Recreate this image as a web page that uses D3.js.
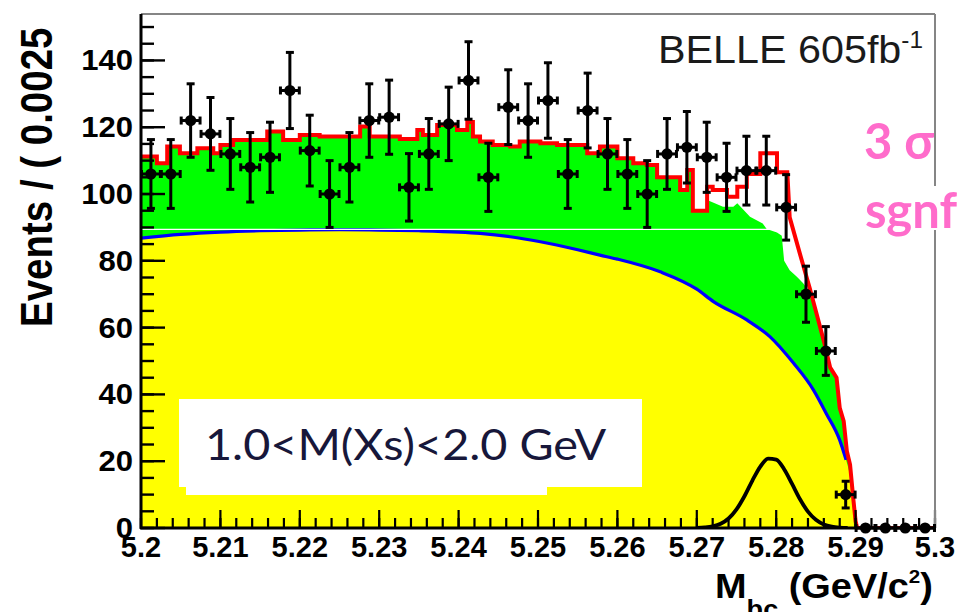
<!DOCTYPE html>
<html><head><meta charset="utf-8">
<script src="https://cdn.jsdelivr.net/npm/d3@7"></script>
<style>html,body{margin:0;padding:0;background:#fff;} svg{display:block}</style>
</head><body>
<svg id="c" width="960" height="612"></svg>
<script>
// ---------------- data ----------------
const binCenters = [5.20125,5.20375,5.20625,5.20875,5.21125,5.21375,5.21625,5.21875,5.22125,5.22375,
  5.22625,5.22875,5.23125,5.23375,5.23625,5.23875,5.24125,5.24375,5.24625,5.24875,
  5.25125,5.25375,5.25625,5.25875,5.26125,5.26375,5.26625,5.26875,5.27125,5.27375,
  5.27625,5.27875,5.28125,5.28375,5.28625,5.28875,5.29125,5.29375,5.29625,5.29875];
const binHalfWidth = 0.00125;
const events = [106,106,122,118,112,108,111,131,113,100,108,122,123,102,112,121,134,105,126,122,
  128,106,125,112,106,100,112,114,111,105,107,107,96,70,53,10,0,0,0,0];
const eventErr = [10.3,10.3,11.0,10.9,10.6,10.4,10.5,11.4,10.6,10.0,10.4,11.0,11.1,10.1,10.6,11.0,11.6,10.2,11.2,11.0,
  11.3,10.3,11.2,10.6,10.3,10.0,10.6,10.7,10.5,10.2,10.3,10.3,9.8,8.4,7.3,4.0,0,0,0,0];

// continuum (ARGUS-like) background: yellow fill with blue line
const argusMass = [5.2000,5.2050,5.2100,5.2150,5.2200,5.2250,5.2300,5.2350,5.2400,5.2427,5.2465,5.2503,5.2550,5.2578,
  5.2600,5.2654,5.2700,5.2721,5.2763,5.2792,5.2822,5.2847,5.2863,5.2880,5.2888,5.2894,5.2897,5.2898];
const argusVal = [86.8,87.9,88.6,89.0,89.2,89.3,89.2,89.0,88.6,88.2,87.2,85.7,83.3,81.7,
  80.5,76.7,71.5,67.8,62.3,57.3,49.3,41.3,34.3,26.3,20.4,14,8,0];

// total fit (red) : step levels then falling tail
const redStepMass = [5.2000,5.2020,5.2033,5.2049,5.2071,5.2091,5.2100,5.2116,5.2159,5.2179,5.2200,5.2225,5.2276,5.2288,
  5.2326,5.2348,5.2355,5.2373,5.2398,5.2411,5.2418,5.2427,5.2443,5.2465,5.2477,5.2503,5.2524,5.2562,5.2578,5.2600,
  5.2620,5.2637,5.2650,5.2679,5.2688,5.2695,5.2713,5.2720,5.2738,5.2751,5.2763,5.2780,5.2801];
const redStepVal = [111.2,109.2,114.2,112.2,113.7,112.2,114.7,116.2,118.7,116.2,117.7,117.2,120.2,117.2,
  116.5,119.2,117.7,120.7,119.2,121.6,117.2,115.7,114.7,114.2,115.7,115.2,114.7,112.2,114.2,110.7,
  109.2,108.7,105.0,101.2,107.2,95.0,102.2,101.2,99.2,102.2,106.0,112.2,106.5];
const redStepEnd = 5.2814;
const redTailMass = [5.2817,5.2830,5.2842,5.2851,5.2861,5.2868,5.2876,5.2880,5.2885,5.2889,5.2893,5.2897,5.2900,5.2902,5.3000];
const redTailVal = [93,82,72,64,55,48,45,36,32,23,19,9,2,0,0];

// total background (green): follows the fit up to 5.2713, then its own edge
const greenStepEnd = 5.2713;
const greenTailMass = [5.2713,5.2733,5.2746,5.2751,5.2767,5.2783,5.2788,5.2801,5.2807,5.2810,5.2817,5.2826,5.2834,5.2843,
  5.2849,5.2851,5.2861,5.2868,5.2876,5.2880,5.2885,5.2889,5.2893,5.2897,5.2900,5.2902];
const greenTailVal = [98.2,96.2,96.2,97.2,93.2,91.2,89.5,88.5,87.5,80,77.2,75.2,73.3,70.3,
  66,64,55,48,45,36,32,23,19,9,2,0];

// signal component (black curve)
const sigMass = [5.2700,5.2710,5.2720,5.2730,5.2740,5.2750,5.2760,5.2770,5.2780,5.2790,5.2800,
  5.2810,5.2820,5.2830,5.2840,5.2850,5.2860,5.2870,5.2880,5.2890];
const sigVal = [0.05,0.17,0.49,1.26,2.84,5.57,9.5,14.2,18.4,20.8,20.5,17.6,13.2,8.6,4.9,2.45,1.06,0.40,0.13,0.04];

const xTickLabels = ["5.2","5.21","5.22","5.23","5.24","5.25","5.26","5.27","5.28","5.29","5.3"];
const yTickLabels = ["0","20","40","60","80","100","120","140"];
const artifactLineValue = 89.4;

// ---------------- setup ----------------
const svg = d3.select("#c");
const X0 = 141, X1 = 935, Y0 = 528, Y1 = 14;
const x = d3.scaleLinear().domain([5.2, 5.3]).range([X0, X1]);
const y = d3.scaleLinear().domain([0, 153.9]).range([Y0, Y1]);

function stepPts(ms, vs, endM) {
  const p = [];
  ms.forEach((m, i) => {
    const m2 = i < ms.length - 1 ? ms[i + 1] : endM;
    p.push([m, vs[i]], [m2, vs[i]]);
  });
  return p;
}
const redPts = stepPts(redStepMass, redStepVal, redStepEnd)
  .concat(redTailMass.map((m, i) => [m, redTailVal[i]]));
const gIdx = redStepMass.findIndex(m => m >= greenStepEnd);
const greenPts = stepPts(redStepMass.slice(0, gIdx), redStepVal.slice(0, gIdx), greenStepEnd)
  .concat(greenTailMass.map((m, i) => [m, greenTailVal[i]]));
const argusPts = argusMass.map((m, i) => [m, argusVal[i]]);
const sigPts = sigMass.map((m, i) => [m, sigVal[i]]);

const plot = svg.append("g");
const defs = svg.append("defs");
defs.append("clipPath").attr("id", "frame").append("rect")
  .attr("x", X0).attr("y", Y1).attr("width", X1 - X0).attr("height", Y0 - Y1);
plot.attr("clip-path", "url(#frame)");

const area = d3.area().x(d => x(d[0])).y0(y(0)).y1(d => y(d[1]));
const line = d3.line().x(d => x(d[0])).y(d => y(d[1]));

plot.append("path").datum(greenPts).attr("d", area).attr("fill", "#00ff00");
plot.append("path").datum(argusPts).attr("d", area.curve(d3.curveMonotoneX)).attr("fill", "#ffff00");
plot.append("path").datum(argusPts.filter(d => d[1] > 15))
  .attr("d", d3.line().x(d => x(d[0])).y(d => y(d[1])).curve(d3.curveMonotoneX))
  .attr("fill", "none").attr("stroke", "#0000ff").attr("stroke-width", 3.2);
plot.append("line").attr("x1", X0).attr("x2", x(5.2822))
  .attr("y1", y(artifactLineValue)).attr("y2", y(artifactLineValue))
  .attr("stroke", "#fff").attr("stroke-width", 1.2);
plot.append("path").datum(redPts).attr("d", line).attr("fill", "none")
  .attr("stroke", "#ff0000").attr("stroke-width", 4).attr("stroke-linejoin", "miter");
plot.append("path").datum(sigPts)
  .attr("d", d3.line().x(d => x(d[0])).y(d => y(d[1])).curve(d3.curveMonotoneX))
  .attr("fill", "none").attr("stroke", "#000").attr("stroke-width", 3.8);

// white label box (slide overlay)
svg.append("rect").attr("x", 179).attr("y", 399).attr("width", 463).attr("height", 88).attr("fill", "#fff");
svg.append("rect").attr("x", 186).attr("y", 399).attr("width", 361).attr("height", 96).attr("fill", "#fff");

function fitWidth(sel, x0, target) {
  const w = sel.node().getBBox().width;
  const s = target / w;
  sel.attr("transform", `translate(${x0},0) scale(${s},1) translate(${-x0},0)`);
}

const boxText = svg.append("text").attr("x", 205).attr("y", 460)
  .attr("font-family", "Lato, 'Open Sans', sans-serif").attr("font-size", 42)
  .attr("fill", "#17173a").text("1.0<M(Xs)<2.0 GeV");
fitWidth(boxText, 205, 402);

// ---------------- axes ----------------
const ax = svg.append("g");
ax.append("line").attr("x1", X0).attr("x2", X1).attr("y1", Y1).attr("y2", Y1).attr("stroke", "#858585").attr("stroke-width", 2);
svg.append("text").attr("x", 864).attr("y", 159).attr("font-family", "Lato, 'Open Sans', sans-serif")
  .attr("font-weight", "bold").attr("font-size", 49).attr("fill", "#ff6ccb").text("3 σ");
svg.append("line").attr("x1", X1).attr("x2", X1).attr("y1", Y1).attr("y2", Y0).attr("stroke", "#858585").attr("stroke-width", 2);
svg.append("rect").attr("x", 858).attr("y", 186).attr("width", 102).attr("height", 44).attr("fill", "#fff");
svg.append("text").attr("x", 865).attr("y", 228).attr("font-family", "Lato, 'Open Sans', sans-serif")
  .attr("font-weight", "bold").attr("font-size", 49).attr("fill", "#ff6ccb").text("sgnf");

const yMinor = y.ticks(30), yMajor = y.ticks(8);
ax.selectAll(".ymin").data(yMinor).join("line")
  .attr("x1", X0).attr("x2", X0 + 13).attr("y1", d => y(d)).attr("y2", d => y(d))
  .attr("stroke", "#000").attr("stroke-width", 2.4);
ax.selectAll(".ymaj").data(yMajor).join("line")
  .attr("x1", X0).attr("x2", X0 + 24).attr("y1", d => y(d)).attr("y2", d => y(d))
  .attr("stroke", "#000").attr("stroke-width", 2.4);
const xMinor = x.ticks(50), xMajor = x.ticks(10);
ax.selectAll(".xmin").data(xMinor).join("line")
  .attr("x1", d => x(d)).attr("x2", d => x(d)).attr("y1", Y0).attr("y2", Y0 - 10)
  .attr("stroke", "#000").attr("stroke-width", 2.2);
ax.selectAll(".xmaj").data(xMajor).join("line")
  .attr("x1", d => x(d)).attr("x2", d => x(d)).attr("y1", Y0).attr("y2", Y0 - 18)
  .attr("stroke", "#000").attr("stroke-width", 2.2);
ax.append("line").attr("x1", X0).attr("x2", X0).attr("y1", Y1).attr("y2", Y0 + 1).attr("stroke", "#000").attr("stroke-width", 3);
ax.append("line").attr("x1", X0 - 1).attr("x2", X1).attr("y1", Y0).attr("y2", Y0).attr("stroke", "#000").attr("stroke-width", 3);

const lblFont = "'Liberation Sans', Arial, Helvetica, sans-serif";
ax.selectAll(".xl").data(xTickLabels).join("text")
  .attr("x", d => x(+d)).attr("y", 557).attr("text-anchor", "middle")
  .attr("font-family", lblFont).attr("font-weight", "bold").attr("font-size", 29).attr("fill", "#000").text(d => d);
ax.selectAll(".yl").data(yTickLabels).join("text")
  .attr("x", 133).attr("y", d => y(+d) + 10).attr("text-anchor", "end")
  .attr("font-family", lblFont).attr("font-weight", "bold").attr("font-size", 29).attr("fill", "#000")
  .attr("transform", "translate(133,0) scale(1.07,1) translate(-133,0)").text(d => d);

// axis titles
svg.append("text").attr("transform", "translate(52,327) scale(1.15,1) rotate(-90)")
  .attr("font-family", lblFont).attr("font-weight", "bold").attr("font-size", 38.5).attr("fill", "#000")
  .text("Events / ( 0.0025");
const xt = svg.append("text").attr("x", 715).attr("y", 598)
  .attr("font-family", lblFont).attr("font-weight", "bold").attr("font-size", 35).attr("fill", "#000");
xt.append("tspan").text("M");
xt.append("tspan").attr("font-size", 25).attr("dy", 20).text("bc");
xt.append("tspan").attr("font-size", 35).attr("dy", -20).text(" (GeV/c");
xt.append("tspan").attr("font-size", 19).attr("dy", -15).text("2");
xt.append("tspan").attr("font-size", 35).attr("dy", 15).text(")");
fitWidth(xt, 715, 218);

const belle = svg.append("text").attr("x", 658).attr("y", 63)
  .attr("font-family", lblFont).attr("font-size", 39).attr("fill", "#1a1a1a");
belle.append("tspan").text("BELLE 605fb");
belle.append("tspan").attr("font-size", 23).attr("dy", -15).text("-1");
fitWidth(belle, 658, 265);

// ---------------- data points ----------------
const pts = svg.append("g");
binCenters.forEach((m, i) => {
  const v = events[i], e = eventErr[i];
  const cx = x(m), cy = y(v);
  const g = pts.append("g").attr("stroke", "#000").attr("stroke-width", 3);
  if (e > 0) {
    g.append("line").attr("x1", cx).attr("x2", cx).attr("y1", y(v - e)).attr("y2", y(v + e));
    g.append("line").attr("x1", cx - 4).attr("x2", cx + 4).attr("y1", y(v - e)).attr("y2", y(v - e));
    g.append("line").attr("x1", cx - 4).attr("x2", cx + 4).attr("y1", y(v + e)).attr("y2", y(v + e));
  }
  const xl = x(m - binHalfWidth) + 0.5, xr = x(m + binHalfWidth) - 0.5;
  g.append("line").attr("x1", xl).attr("x2", xr).attr("y1", cy).attr("y2", cy);
  g.append("line").attr("x1", xl).attr("x2", xl).attr("y1", cy - 4).attr("y2", cy + 4);
  g.append("line").attr("x1", xr).attr("x2", xr).attr("y1", cy - 4).attr("y2", cy + 4);
  pts.append("circle").attr("cx", cx).attr("cy", cy).attr("r", 5.6).attr("fill", "#000");
});
</script>
</body></html>
